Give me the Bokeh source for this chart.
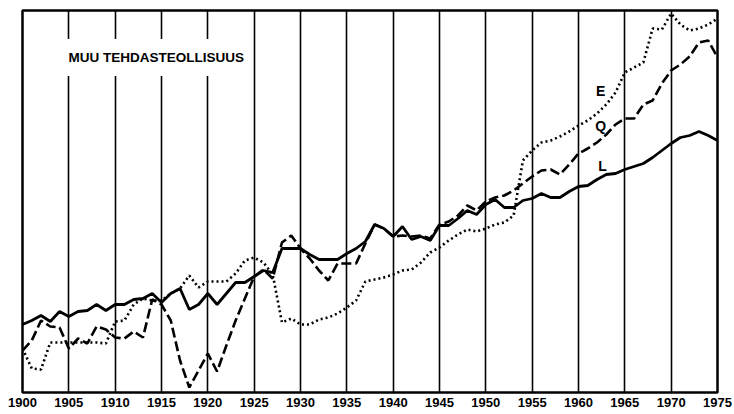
from bokeh.plotting import figure
from bokeh.models import Range1d, FixedTicker, Label
from bokeh.embed import file_html
from bokeh.resources import INLINE

years = list(range(1900, 1976))

# L (solid)
L = [68, 72, 77, 71, 81, 76, 81, 82, 88, 82,
     88, 88, 93, 94, 99, 90, 99, 104, 83, 88,
     99, 88, 99, 110, 110, 116, 122, 120, 144, 144,
     144, 138, 133, 133, 133, 139, 144, 151, 168, 164,
     156, 166, 153, 156, 152, 167, 167, 174, 182, 178,
     188, 193, 185, 185, 192, 194, 199, 195, 195, 201,
     206, 207, 213, 218, 219, 223, 226, 229, 235, 242,
     249, 255, 257, 261, 257, 252]

# Q (dashed)
Q = [42, 52, 72, 66, 65, 44, 54, 49, 66, 63,
     55, 54, 61, 55, 93, 88, 72, 32, 5, 22,
     39, 21, 47, 72, 94, 116, 123, 114, 150, 157,
     144, 134, 122, 112, 129, 129, 129, 149, 168, 164,
     156, 157, 156, 157, 154, 168, 171, 177, 187, 182,
     191, 195, 197, 202, 209, 216, 222, 223, 218, 228,
     239, 244, 250, 258, 268, 274, 274, 288, 292, 309,
     322, 328, 336, 350, 352, 335]

# E (dotted)
E = [44, 24, 23, 50, 50, 50, 50, 50, 50, 49,
     71, 72, 88, 94, 92, 92, 99, 104, 117, 105,
     111, 111, 111, 119, 132, 135, 130, 118, 70, 74,
     68, 68, 73, 75, 79, 85, 92, 111, 113, 115,
     118, 122, 123, 130, 140, 145, 152, 158, 163, 161,
     164, 168, 170, 177, 232, 242, 250, 252, 256, 261,
     267, 272, 279, 288, 300, 320, 325, 330, 364, 363,
     379, 368, 362, 364, 368, 374]

tick_years = list(range(1900, 1976, 5))
title_text = "MUU TEHDASTEOLLISUUS"
series_labels = ["E", "Q", "L"]

FONT = "Liberation Sans"

p = figure(width=734, height=414, output_backend="svg", toolbar_location=None,
           x_range=Range1d(1900, 1975), y_range=Range1d(0, 382),
           min_border_left=22, min_border_right=17, min_border_top=10,
           min_border_bottom=22)

p.background_fill_color = "white"
p.border_fill_color = "white"
p.outline_line_color = "black"
p.outline_line_width = 2.5

p.yaxis.visible = False
p.ygrid.visible = False

p.xaxis.ticker = FixedTicker(ticks=tick_years)
p.xaxis.major_label_text_font = FONT
p.xaxis.major_label_text_font_style = "bold"
p.xaxis.major_label_text_font_size = "13px"
p.xaxis.major_label_text_color = "black"
p.xaxis.major_tick_line_color = None
p.xaxis.minor_tick_line_color = None
p.xaxis.major_tick_out = 0
p.xaxis.minor_tick_out = 0
p.xaxis.major_tick_in = 0
p.xaxis.minor_tick_in = 0
p.xaxis.axis_line_color = None
p.xaxis.major_label_standoff = 5

p.xgrid.ticker = FixedTicker(ticks=tick_years)
p.xgrid.grid_line_color = "black"
p.xgrid.grid_line_width = 1.6
p.xgrid.grid_line_alpha = 1.0

p.line(years, E, line_color="black", line_width=2.6, line_dash="2 3")
p.line(years, Q, line_color="black", line_width=2.6, line_dash="10 4")
p.line(years, L, line_color="black", line_width=2.8)

p.add_layout(Label(x=1904.75, y=335, text=title_text, text_font=FONT,
                   text_font_style="bold", text_font_size="13.5px",
                   text_color="black",
                   text_align="left", text_baseline="middle",
                   background_fill_color="white", padding=(2, 11)))

label_pos = [(1962.4, 302), (1962.4, 267), (1962.6, 227)]
for t, (lx, ly) in zip(series_labels, label_pos):
    p.add_layout(Label(x=lx, y=ly, text=t, text_font=FONT,
                       text_font_style="bold", text_font_size="14px",
                       text_color="black",
                       text_align="center", text_baseline="middle"))

open("out.html", "w").write(file_html(p, INLINE))
